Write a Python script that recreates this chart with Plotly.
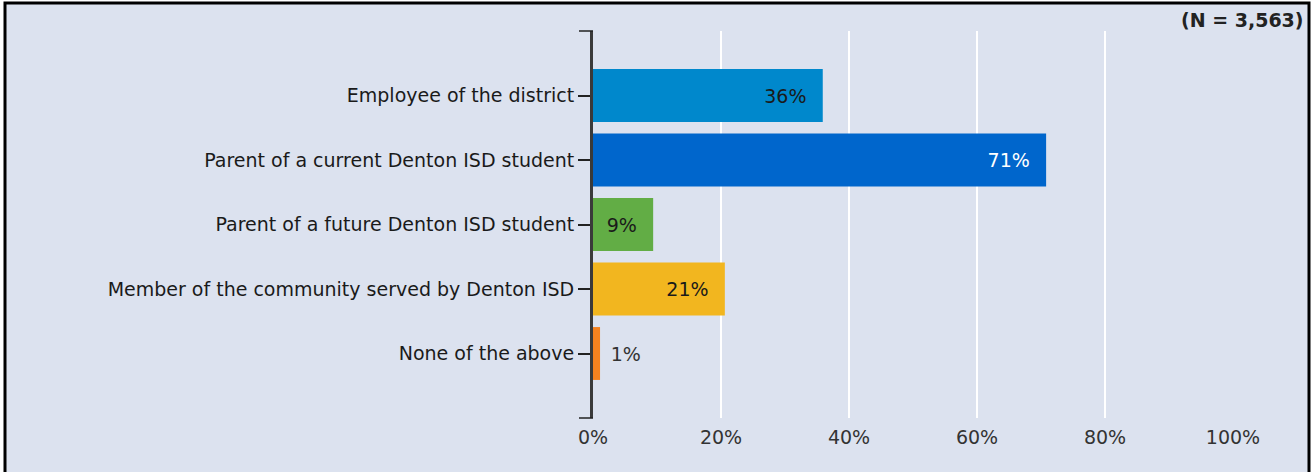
import plotly.graph_objects as go

categories = [
    "Employee of the district",
    "Parent of a current Denton ISD student",
    "Parent of a future Denton ISD student",
    "Member of the community served by Denton ISD",
    "None of the above",
]
values = [35.9, 70.8, 9.4, 20.6, 1.1]
labels = ["36%", "71%", "9%", "21%", "1%"]
colors = ["#0088CC", "#0066CC", "#62AD45", "#F2B61F", "#F5821F"]
text_colors = ["#1a1a1a", "#ffffff", "#1a1a1a", "#1a1a1a", "#333333"]
positions = ["inside", "inside", "inside", "inside", "outside"]
x_ticks = [0, 20, 40, 60, 80, 100]
x_ticktext = ["0%", "20%", "40%", "60%", "80%", "100%"]
n_label = "(N = 3,563)"

W, H = 1314, 472
L, R, T, B = 593, 81, 31, 54
pw, ph = W - L - R, H - T - B

def px_x(p):
    return (p - L) / pw

def px_y(p):
    return (H - B - p) / ph

FONT = "DejaVu Sans"
FS = 19

fig = go.Figure()
fig.add_trace(go.Bar(
    y=categories,
    x=values,
    orientation="h",
    marker=dict(color=colors, line=dict(width=0)),
    width=0.82,
    text=[t + "\u2002\u2009" if p == "inside" else "\u2009\u2009" + t
          for t, p in zip(labels, positions)],
    textposition=positions,
    insidetextanchor="end",
    textfont=dict(family=FONT, size=FS, color=text_colors),
    outsidetextfont=dict(family=FONT, size=FS, color="#333333"),
    cliponaxis=False,
    hoverinfo="skip",
))

fig.update_layout(
    width=W, height=H,
    margin=dict(l=L, r=R, t=T, b=B, pad=0),
    paper_bgcolor="#ffffff",
    plot_bgcolor="rgba(0,0,0,0)",
    showlegend=False,
    uniformtext=dict(mode=False),
    xaxis=dict(
        range=[0, 100],
        tickvals=x_ticks,
        ticktext=x_ticktext,
        showgrid=True,
        gridcolor="#ffffff",
        gridwidth=1.5,
        zeroline=False,
        showline=False,
        ticks="",
        tickfont=dict(family=FONT, size=FS, color="#333333"),
        ticklabelstandoff=6,
    ),
    yaxis=dict(
        categoryorder="array",
        categoryarray=categories,
        range=[5, -1],
        showgrid=False,
        zeroline=False,
        showline=True,
        linecolor="#3a3a3a",
        linewidth=3,
        ticks="outside",
        ticklen=12,
        tickwidth=1.5,
        tickcolor="#222222",
        tickfont=dict(family=FONT, size=FS, color="#1a1a1a"),
        ticklabelstandoff=0,
    ),
    shapes=[
        dict(type="rect", xref="paper", yref="paper",
             x0=px_x(5), x1=px_x(1309), y0=px_y(480), y1=px_y(3),
             fillcolor="#DCE2EF", line=dict(color="#000000", width=3),
             layer="below"),
        dict(type="line", xref="paper", yref="paper",
             x0=px_x(579), x1=px_x(593), y0=1, y1=1,
             line=dict(color="#222222", width=1.5)),
        dict(type="line", xref="paper", yref="paper",
             x0=px_x(579), x1=px_x(593), y0=0, y1=0,
             line=dict(color="#222222", width=1.5)),
    ],
    annotations=[
        dict(text="<b>" + n_label + "</b>", xref="paper", yref="paper",
             x=px_x(1306), y=px_y(20), xanchor="right", yanchor="middle",
             showarrow=False, font=dict(family=FONT, size=FS, color="#222222")),
    ],
)

fig.write_html("out.html", config={"displayModeBar": False},
               post_script="document.body.style.margin='0';")
